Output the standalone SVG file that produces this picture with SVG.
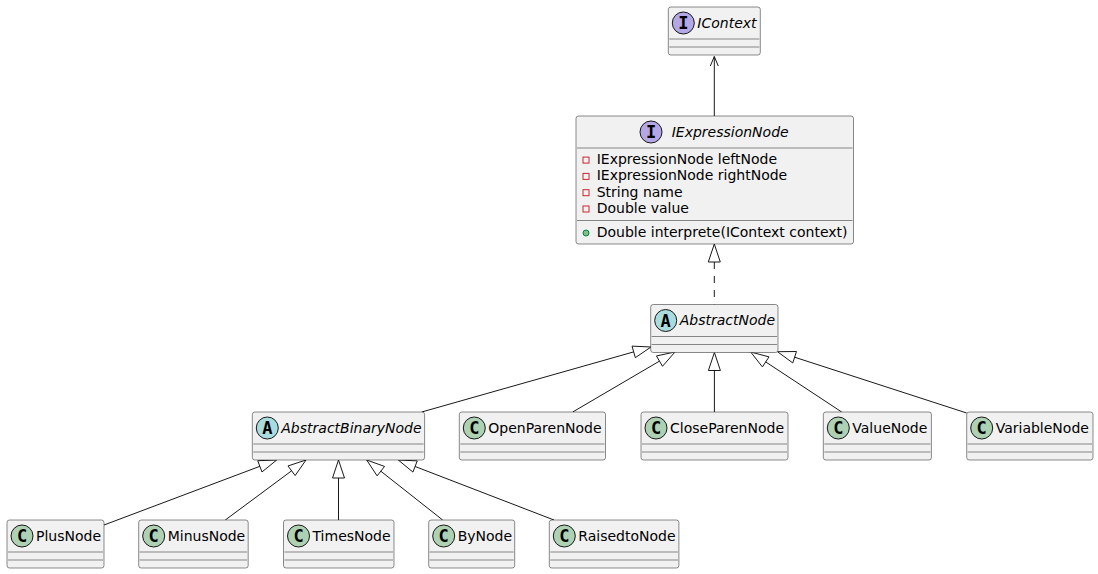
<svg xmlns="http://www.w3.org/2000/svg" width="1098" height="574" viewBox="0 0 1098 574">
<style>
.box{fill:#F1F1F1;stroke:#181818;stroke-width:0.5}
.sep{stroke:#181818;stroke-width:0.5}
.name{font-family:"DejaVu Sans",Verdana,sans-serif;font-size:14px;fill:#000000}
.it{font-style:italic}
.mem{font-family:"DejaVu Sans",Verdana,sans-serif;font-size:14px;fill:#000000}
.ci{fill:#B4A7E5;stroke:#181818;stroke-width:1}
.ca{fill:#A9DCDF;stroke:#181818;stroke-width:1}
.cc{fill:#ADD1B2;stroke:#181818;stroke-width:1}
.gl{font-family:"DejaVu Sans Mono","Liberation Mono",monospace;font-weight:bold;font-size:17px;fill:#000000;text-anchor:middle}
.priv{fill:none;stroke:#C82930;stroke-width:1}
.pub{fill:#84BE84;stroke:#038048;stroke-width:1}
.ln{stroke:#181818;stroke-width:1;fill:none}
.dash{stroke-dasharray:7,7}
.tri{fill:none;stroke:#181818;stroke-width:1}
</style>
<rect width="1098" height="574" fill="#FFFFFF"/>

<g id="connectors">
  <!-- IExpressionNode -> IContext -->
  <line class="ln" x1="714.3" y1="116" x2="714.3" y2="56.5"/>
  <path class="ln" d="M710.3,66 L714.3,56.5 L718.3,66" stroke-width="1.5"/>
  <!-- AbstractNode ..|> IExpressionNode -->
  <line class="ln dash" x1="714.3" y1="262" x2="714.3" y2="304.5"/>
  <polygon class="tri" points="714.3,244 708.3,262 720.3,262"/>
  <!-- AbstractBinaryNode -> AbstractNode -->
  <line class="ln" x1="421.7" y1="412" x2="633.7" y2="351.9"/>
  <polygon class="tri" points="651,347 632.04,346.14 635.32,357.68"/>
  <!-- OpenParenNode -> AbstractNode -->
  <line class="ln" x1="572.7" y1="412" x2="659.5" y2="361.1"/>
  <polygon class="tri" points="675,352 656.43,355.93 662.51,366.29"/>
  <!-- CloseParenNode -> AbstractNode -->
  <line class="ln" x1="714.4" y1="412" x2="714.4" y2="370.5"/>
  <polygon class="tri" points="714.4,352.5 708.4,370.5 720.4,370.5"/>
  <!-- ValueNode -> AbstractNode -->
  <line class="ln" x1="841.7" y1="412" x2="765.7" y2="361.9"/>
  <polygon class="tri" points="750.7,352 762.43,366.91 769.03,356.89"/>
  <!-- VariableNode -> AbstractNode -->
  <line class="ln" x1="966.7" y1="413" x2="794.6" y2="357.2"/>
  <polygon class="tri" points="777.5,351.7 792.77,362.95 796.47,351.53"/>
  <!-- PlusNode -> AbstractBinaryNode -->
  <line class="ln" x1="104" y1="525" x2="259.9" y2="466.3"/>
  <polygon class="tri" points="276.7,460 257.74,460.72 261.96,471.96"/>
  <!-- MinusNode -> AbstractBinaryNode -->
  <line class="ln" x1="225.3" y1="520" x2="291.6" y2="470.8"/>
  <polygon class="tri" points="306,460 287.98,465.94 295.14,475.56"/>
  <!-- TimesNode -> AbstractBinaryNode -->
  <line class="ln" x1="338.5" y1="520" x2="338.5" y2="478"/>
  <polygon class="tri" points="338.5,460 332.5,478 344.5,478"/>
  <!-- ByNode -> AbstractBinaryNode -->
  <line class="ln" x1="442.7" y1="520" x2="380.8" y2="471.2"/>
  <polygon class="tri" points="366.7,460 377.11,475.87 384.55,466.45"/>
  <!-- RaisedtoNode -> AbstractBinaryNode -->
  <line class="ln" x1="554" y1="520" x2="415.1" y2="466.5"/>
  <polygon class="tri" points="398.3,460 412.93,472.08 417.25,460.88"/>
</g>

<g id="IContext">
  <rect class="box" x="668.3" y="7" width="92" height="48" rx="2.5" ry="2.5"/>
  <circle class="ci" cx="683.3" cy="23" r="11"/>
  <text class="gl" x="683.3" y="29">I</text>
  <text class="name it" x="697.3" y="27.85">IContext</text>
  <line class="sep" x1="669.3" y1="39" x2="759.3" y2="39"/>
  <line class="sep" x1="669.3" y1="47" x2="759.3" y2="47"/>
</g>

<g id="IExpressionNode">
  <rect class="box" x="576" y="116" width="277.5" height="128" rx="2.5" ry="2.5"/>
  <circle class="ci" cx="651" cy="132" r="11"/>
  <text class="gl" x="651" y="138">I</text>
  <text class="name it" x="671.7" y="136.85">IExpressionNode</text>
  <line class="sep" x1="577" y1="148" x2="852.5" y2="148"/>
  <rect class="priv" x="583" y="157.1" width="6" height="6"/>
  <text class="mem" x="596.7" y="164.1">IExpressionNode leftNode</text>
  <rect class="priv" x="583" y="173.4" width="6" height="6"/>
  <text class="mem" x="596.7" y="180.4">IExpressionNode rightNode</text>
  <rect class="priv" x="583" y="189.7" width="6" height="6"/>
  <text class="mem" x="596.7" y="196.7">String name</text>
  <rect class="priv" x="583" y="206" width="6" height="6"/>
  <text class="mem" x="596.7" y="213">Double value</text>
  <line class="sep" x1="577" y1="220.5" x2="852.5" y2="220.5"/>
  <circle class="pub" cx="586" cy="233" r="3"/>
  <text class="mem" x="596.7" y="237.4">Double interprete(IContext context)</text>
</g>

<g id="AbstractNode">
  <rect class="box" x="650.7" y="304.5" width="127.3" height="48" rx="2.5" ry="2.5"/>
  <circle class="ca" cx="665.7" cy="320.5" r="11"/>
  <text class="gl" x="665.7" y="326.5">A</text>
  <text class="name it" x="679.7" y="325.35">AbstractNode</text>
  <line class="sep" x1="651.7" y1="336.5" x2="777" y2="336.5"/>
  <line class="sep" x1="651.7" y1="344.5" x2="777" y2="344.5"/>
</g>

<g id="AbstractBinaryNode">
  <rect class="box" x="252.3" y="412" width="172.3" height="48" rx="2.5" ry="2.5"/>
  <circle class="ca" cx="267.3" cy="428" r="11"/>
  <text class="gl" x="267.3" y="434">A</text>
  <text class="name it" x="281.3" y="432.85">AbstractBinaryNode</text>
  <line class="sep" x1="253.3" y1="444" x2="423.6" y2="444"/>
  <line class="sep" x1="253.3" y1="452" x2="423.6" y2="452"/>
</g>

<g id="OpenParenNode">
  <rect class="box" x="459.3" y="412" width="146.2" height="48" rx="2.5" ry="2.5"/>
  <circle class="cc" cx="474.3" cy="428" r="11"/>
  <text class="gl" x="474.3" y="434">C</text>
  <text class="name" x="488.3" y="432.85">OpenParenNode</text>
  <line class="sep" x1="460.3" y1="444" x2="604.5" y2="444"/>
  <line class="sep" x1="460.3" y1="452" x2="604.5" y2="452"/>
</g>

<g id="CloseParenNode">
  <rect class="box" x="641" y="412" width="147" height="48" rx="2.5" ry="2.5"/>
  <circle class="cc" cx="656" cy="428" r="11"/>
  <text class="gl" x="656" y="434">C</text>
  <text class="name" x="670" y="432.85">CloseParenNode</text>
  <line class="sep" x1="642" y1="444" x2="787" y2="444"/>
  <line class="sep" x1="642" y1="452" x2="787" y2="452"/>
</g>

<g id="ValueNode">
  <rect class="box" x="823.3" y="412" width="108.1" height="48" rx="2.5" ry="2.5"/>
  <circle class="cc" cx="838.3" cy="428" r="11"/>
  <text class="gl" x="838.3" y="434">C</text>
  <text class="name" x="852.3" y="432.85">ValueNode</text>
  <line class="sep" x1="824.3" y1="444" x2="930.4" y2="444"/>
  <line class="sep" x1="824.3" y1="452" x2="930.4" y2="452"/>
</g>

<g id="VariableNode">
  <rect class="box" x="966.7" y="412" width="126.3" height="48" rx="2.5" ry="2.5"/>
  <circle class="cc" cx="981.7" cy="428" r="11"/>
  <text class="gl" x="981.7" y="434">C</text>
  <text class="name" x="995.7" y="432.85">VariableNode</text>
  <line class="sep" x1="967.7" y1="444" x2="1092" y2="444"/>
  <line class="sep" x1="967.7" y1="452" x2="1092" y2="452"/>
</g>

<g id="PlusNode">
  <rect class="box" x="7" y="520" width="97" height="48" rx="2.5" ry="2.5"/>
  <circle class="cc" cx="22" cy="536" r="11"/>
  <text class="gl" x="22" y="542">C</text>
  <text class="name" x="36" y="540.85">PlusNode</text>
  <line class="sep" x1="8" y1="552" x2="103" y2="552"/>
  <line class="sep" x1="8" y1="560" x2="103" y2="560"/>
</g>

<g id="MinusNode">
  <rect class="box" x="138.7" y="520" width="109.5" height="48" rx="2.5" ry="2.5"/>
  <circle class="cc" cx="153.7" cy="536" r="11"/>
  <text class="gl" x="153.7" y="542">C</text>
  <text class="name" x="167.7" y="540.85">MinusNode</text>
  <line class="sep" x1="139.7" y1="552" x2="247.2" y2="552"/>
  <line class="sep" x1="139.7" y1="560" x2="247.2" y2="560"/>
</g>

<g id="TimesNode">
  <rect class="box" x="283.5" y="520" width="110.5" height="48" rx="2.5" ry="2.5"/>
  <circle class="cc" cx="298.5" cy="536" r="11"/>
  <text class="gl" x="298.5" y="542">C</text>
  <text class="name" x="312.5" y="540.85">TimesNode</text>
  <line class="sep" x1="284.5" y1="552" x2="393" y2="552"/>
  <line class="sep" x1="284.5" y1="560" x2="393" y2="560"/>
</g>

<g id="ByNode">
  <rect class="box" x="428.7" y="520" width="86" height="48" rx="2.5" ry="2.5"/>
  <circle class="cc" cx="443.7" cy="536" r="11"/>
  <text class="gl" x="443.7" y="542">C</text>
  <text class="name" x="457.7" y="540.85">ByNode</text>
  <line class="sep" x1="429.7" y1="552" x2="513.7" y2="552"/>
  <line class="sep" x1="429.7" y1="560" x2="513.7" y2="560"/>
</g>

<g id="RaisedtoNode">
  <rect class="box" x="549.3" y="520" width="129.6" height="48" rx="2.5" ry="2.5"/>
  <circle class="cc" cx="564.3" cy="536" r="11"/>
  <text class="gl" x="564.3" y="542">C</text>
  <text class="name" x="578.3" y="540.85">RaisedtoNode</text>
  <line class="sep" x1="550.3" y1="552" x2="677.9" y2="552"/>
  <line class="sep" x1="550.3" y1="560" x2="677.9" y2="560"/>
</g>
</svg>
